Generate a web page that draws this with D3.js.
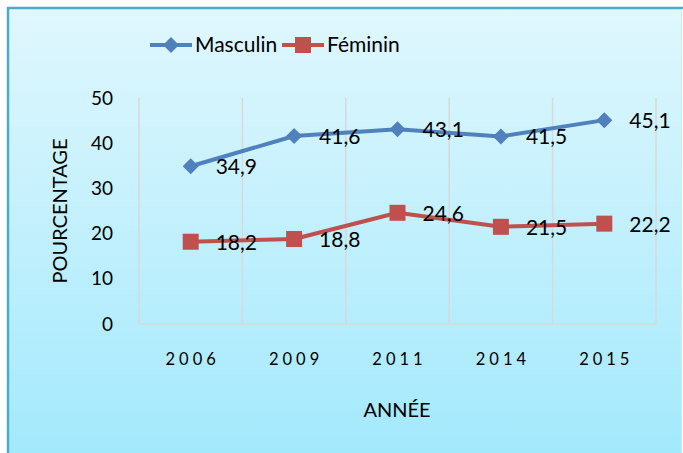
<!DOCTYPE html>
<html>
<head>
<meta charset="utf-8">
<script src="https://cdn.jsdelivr.net/npm/d3@7"></script>
<style>
  body { margin: 0; background: #fff; }
  text { font-family: Lato, 'Liberation Sans', sans-serif; fill: #000; }
</style>
</head>
<body>
<div id="chart"></div>
<script>
// data
let annees = ['2006', '2009', '2011', '2014', '2015'];
let masculin = [34.9, 41.6, 43.1, 41.5, 45.1];
let feminin = [18.2, 18.8, 24.6, 21.5, 22.2];
let yTicks = [0, 10, 20, 30, 40, 50];

let w = 683;
let h = 453;
let plotL = 139, plotR = 656, plotT = 98, plotB = 324;

let svg = d3.select('#chart')
            .append('svg')
            .attr('width', w)
            .attr('height', h);

let defs = svg.append('defs');
let grad = defs.append('linearGradient')
               .attr('id', 'bg')
               .attr('x1', 0).attr('y1', 0)
               .attr('x2', 0).attr('y2', 1);
grad.append('stop').attr('offset', '0%').attr('stop-color', '#e0f7fd');
grad.append('stop').attr('offset', '100%').attr('stop-color', '#a3e9fc');

// frame
svg.append('rect')
   .attr('x', 8).attr('y', 8)
   .attr('width', w - 9).attr('height', h - 8)
   .attr('fill', 'url(#bg)');
svg.append('line')
   .attr('x1', 7).attr('x2', w).attr('y1', 8).attr('y2', 8)
   .attr('stroke', '#4bacc6').attr('stroke-width', 2.5);
svg.append('line')
   .attr('x1', 8).attr('x2', 8).attr('y1', 7).attr('y2', h)
   .attr('stroke', '#4bacc6').attr('stroke-width', 2.5);
svg.append('line')
   .attr('x1', w - 1.5).attr('x2', w - 1.5).attr('y1', 9).attr('y2', h)
   .attr('stroke', '#c8eef8').attr('stroke-width', 1);

let xScale = d3.scaleBand()
               .domain(annees)
               .range([plotL, plotR]);
let yScale = d3.scaleLinear()
               .domain([0, 50])
               .range([plotB, plotT]);

// vertical gridlines on category edges
let edges = annees.map((d) => xScale(d)).concat([plotR]);
svg.append('g')
   .selectAll('line')
   .data(edges)
   .enter()
   .append('line')
   .attr('x1', (d) => d).attr('x2', (d) => d)
   .attr('y1', plotT).attr('y2', plotB)
   .attr('stroke', '#d9d9d9').attr('stroke-width', 1.5);
svg.append('line')
   .attr('x1', plotL).attr('x2', plotR)
   .attr('y1', plotB).attr('y2', plotB)
   .attr('stroke', '#d9d9d9').attr('stroke-width', 1.5);

// y tick labels
svg.append('g')
   .selectAll('text')
   .data(yTicks)
   .enter()
   .append('text')
   .attr('x', 113)
   .attr('y', (d) => yScale(d))
   .attr('dy', '0.35em')
   .attr('text-anchor', 'end')
   .style('font-size', '19px')
   .text((d) => d);

// x tick labels
svg.append('g')
   .selectAll('text')
   .data(annees)
   .enter()
   .append('text')
   .attr('x', (d) => xScale(d) + xScale.bandwidth() / 2 + 2)
   .attr('y', 365)
   .attr('text-anchor', 'middle')
   .style('font-size', '16.5px')
   .style('letter-spacing', '4px')
   .text((d) => d);

svg.append('text')
   .attr('x', 397)
   .attr('y', 417)
   .attr('text-anchor', 'middle')
   .style('font-size', '20px')
   .text('ANNÉE');

svg.append('text')
   .attr('transform', 'translate(67, 211) rotate(-90)')
   .attr('text-anchor', 'middle')
   .style('font-size', '20px')
   .text('POURCENTAGE');

let cx = (d, i) => xScale(annees[i]) + xScale.bandwidth() / 2;
let line = d3.line()
             .x((d, i) => cx(d, i))
             .y((d) => yScale(d));

let series = [
  { name: 'Masculin', values: masculin, color: '#4f81bd', shape: 'diamond' },
  { name: 'Féminin', values: feminin, color: '#c0504d', shape: 'square' }
];

const marker = (g, shape, color) => {
  if (shape === 'diamond') {
    g.append('path')
     .attr('d', 'M0,-8L8,0L0,8L-8,0Z')
     .attr('fill', color);
  } else {
    g.append('rect')
     .attr('x', -8).attr('y', -8)
     .attr('width', 16).attr('height', 16)
     .attr('fill', color);
  }
};

series.forEach((s) => {
  svg.append('path')
     .datum(s.values)
     .attr('d', line)
     .attr('fill', 'none')
     .attr('stroke', s.color)
     .attr('stroke-width', 4)
     .attr('stroke-linejoin', 'round');
  s.values.forEach((v, i) => {
    let g = svg.append('g')
               .attr('transform', 'translate(' + cx(v, i) + ',' + yScale(v) + ')');
    marker(g, s.shape, s.color);
    svg.append('text')
       .attr('x', cx(v, i) + 25)
       .attr('y', yScale(v) + 8)
       .style('font-size', '21px')
       .text(d3.format('.1f')(v).replace('.', ','));
  });
});

// legend
let legendX = [150, 282];
series.forEach((s, i) => {
  let lg = svg.append('g')
              .attr('transform', 'translate(' + legendX[i] + ', 45)');
  lg.append('line')
    .attr('x1', 0).attr('x2', 42)
    .attr('stroke', s.color)
    .attr('stroke-width', 4);
  let m = lg.append('g').attr('transform', 'translate(21, 0)');
  marker(m, s.shape, s.color);
  lg.append('text')
    .attr('x', 45)
    .attr('y', 7)
    .style('font-size', '21px')
    .text(s.name);
});
</script>
</body>
</html>
